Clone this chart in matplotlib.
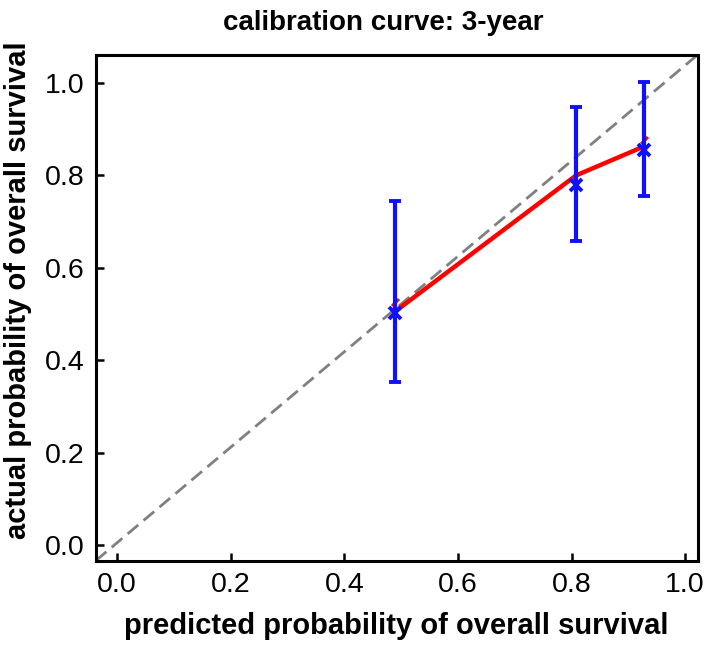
import matplotlib
matplotlib.use("Agg")
import matplotlib.pyplot as plt

plt.rcParams['font.family'] = ['Liberation Sans', 'DejaVu Sans']

# data
pred = [0.489, 0.808, 0.928]
obs = [0.502, 0.780, 0.854]
err_lo = [0.352, 0.658, 0.756]
err_hi = [0.744, 0.947, 1.002]
apparent = [0.505, 0.800, 0.863]
mark_red = [0.527, 0.798, 0.877]
ticks = [0.0, 0.2, 0.4, 0.6, 0.8, 1.0]
tick_labels = ["0.0", "0.2", "0.4", "0.6", "0.8", "1.0"]

fig = plt.figure(figsize=(7.09, 6.45), dpi=100)
ax = fig.add_axes([0.135, 0.1307, 0.849, 0.7843])

ax.plot([0, 1], [0, 1], transform=ax.transAxes, color='#808080', lw=2.0,
        ls=(0, (5, 2.5)), zorder=1)

ax.plot(pred, apparent, color='#ff0000', lw=3.2, zorder=3, solid_capstyle='butt')
ax.plot(pred, mark_red, ls='none', marker=(2, 0, -45), ms=7, mew=2.2,
        color='#ff0000', zorder=3)

yerr = [[o - l for o, l in zip(obs, err_lo)], [h - o for o, h in zip(obs, err_hi)]]
ax.errorbar(pred, obs, yerr=yerr, fmt='x', color='#1010ff', ecolor='#1010ff',
            elinewidth=3, capsize=4.5, capthick=3, ms=9, mew=2.8, zorder=4)

ax.set_xlim(-0.0375, 1.022)
ax.set_ylim(-0.034, 1.061)
ax.set_xticks(ticks)
ax.set_xticklabels(tick_labels)
ax.set_yticks(ticks)
ax.set_yticklabels(tick_labels)
ax.tick_params(direction='in', length=6, width=1.8, labelsize=20.5, pad=8)
for s in ax.spines.values():
    s.set_linewidth(2.2)

ax.set_xlabel("predicted probability of overall survival", fontsize=21,
              fontweight='bold', labelpad=10)
ax.set_ylabel("actual probability of overall survival", fontsize=21,
              fontweight='bold')
ax.yaxis.set_label_coords(-0.106, 0.535)
ax.set_title("calibration curve: 3-year", fontsize=20, fontweight='bold',
             pad=18, x=0.477)

fig.savefig("out.png", dpi=100)
